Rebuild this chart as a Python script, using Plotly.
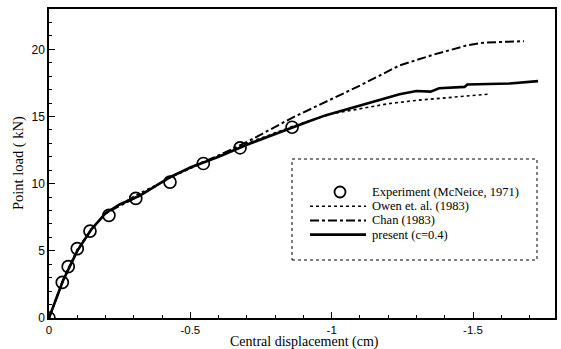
import plotly.graph_objects as go

# Experiment (McNeice, 1971)
exp_disp = [0, -0.047, -0.068, -0.100, -0.145, -0.212, -0.307, -0.428, -0.546, -0.676, -0.860]
exp_load = [0, 2.65, 3.82, 5.16, 6.47, 7.64, 8.90, 10.12, 11.50, 12.67, 14.20]

# Owen et. al. (1983)
owen_disp = [0, -0.05, -0.10, -0.15, -0.20, -0.30, -0.43, -0.50, -0.60, -0.70, -0.86, -1.00,
             -1.10, -1.20, -1.30, -1.40, -1.50, -1.56]
owen_load = [0, 2.9, 5.1, 6.6, 7.75, 9.05, 10.45, 11.15, 12.1, 13.0, 14.25, 15.2,
             15.6, 15.95, 16.2, 16.4, 16.55, 16.67]

# Chan (1983)
chan_disp = [0, -0.05, -0.10, -0.15, -0.20, -0.32, -0.43, -0.50, -0.60, -0.70, -0.78, -0.86,
             -1.00, -1.10, -1.24, -1.36, -1.48, -1.54, -1.60, -1.68]
chan_load = [0, 2.8, 5.0, 6.6, 7.8, 9.1, 10.5, 11.2, 12.1, 13.1, 14.0, 14.9,
             16.3, 17.3, 18.8, 19.6, 20.3, 20.5, 20.55, 20.6]

# present (c=0.4)
pres_disp = [0, -0.05, -0.10, -0.15, -0.20, -0.25, -0.32, -0.43, -0.50, -0.60, -0.70, -0.86,
             -0.92, -0.98, -1.10, -1.24, -1.30, -1.35, -1.38, -1.47, -1.48, -1.57, -1.63, -1.73]
pres_load = [0, 2.8, 5.0, 6.6, 7.8, 8.45, 9.1, 10.5, 11.2, 12.0, 12.9, 14.2,
             14.65, 15.1, 15.8, 16.65, 16.9, 16.85, 17.1, 17.2, 17.38, 17.4, 17.46, 17.63]

x_ticks = [0, -0.5, -1, -1.5]
x_tick_text = ["0", "-0.5", "-1", "-1.5"]
y_ticks = [0, 5, 10, 15, 20]

legend_names = ["Experiment (McNeice, 1971)", "Owen et. al. (1983)", "Chan (1983)", "present (c=0.4)"]
x_title = "Central displacement (cm)"
y_title = "Point load ( kN)"

serif = "Liberation Serif"
sans = "Liberation Sans"

W, H = 561, 349
ML, MR, MT, MB = 49, 6, 9, 31
PW, PH = W - ML - MR, H - MT - MB


def px_x(p):
    return (p - ML) / PW


def px_y(p):
    return (H - MB - p) / PH


styles = [
    None,
    dict(color="black", width=1.6, dash="dot"),
    dict(color="black", width=2, dash="dashdot"),
    dict(color="black", width=2.6),
]

fig = go.Figure()
fig.add_trace(go.Scatter(
    x=exp_disp, y=exp_load, mode="markers", name=legend_names[0],
    marker=dict(symbol="circle-open", size=12, color="black", line=dict(width=1.7)),
))
fig.add_trace(go.Scatter(x=owen_disp, y=owen_load, mode="lines", name=legend_names[1], line=styles[1]))
fig.add_trace(go.Scatter(x=chan_disp, y=chan_load, mode="lines", name=legend_names[2], line=styles[2]))
fig.add_trace(go.Scatter(x=pres_disp, y=pres_load, mode="lines", name=legend_names[3], line=styles[3]))

# legend: dotted frame, keys and labels
fig.add_shape(type="rect", xref="paper", yref="paper",
              x0=px_x(292), x1=px_x(537), y0=px_y(260), y1=px_y(159),
              line=dict(color="black", width=1, dash="dot"), fillcolor="rgba(0,0,0,0)")
row_y = [192, 206.2, 220.4, 234.6]
for i, (name, yy) in enumerate(zip(legend_names, row_y)):
    if i == 0:
        fig.add_shape(type="circle", xref="paper", yref="paper",
                      xsizemode="pixel", ysizemode="pixel",
                      xanchor=px_x(340), yanchor=px_y(yy),
                      x0=-5.5, x1=5.5, y0=-5.5, y1=5.5,
                      line=dict(color="black", width=1.8))
    else:
        fig.add_shape(type="line", xref="paper", yref="paper",
                      x0=px_x(310), x1=px_x(366), y0=px_y(yy), y1=px_y(yy), line=styles[i])
    fig.add_annotation(text=name, xref="paper", yref="paper", x=px_x(371), y=px_y(yy),
                       xanchor="left", yanchor="middle", showarrow=False, borderpad=0,
                       font=dict(family=serif, size=12.5, color="black"))

# axis titles
fig.add_annotation(text=x_title, xref="paper", yref="paper", x=px_x(304), y=px_y(342),
                   xanchor="center", yanchor="middle", showarrow=False, borderpad=0,
                   font=dict(family=serif, size=14, color="black"))
fig.add_annotation(text=y_title, xref="paper", yref="paper", x=px_x(18), y=px_y(163),
                   xanchor="center", yanchor="middle", showarrow=False, textangle=-90,
                   font=dict(family=serif, size=14.5, color="black"))

fig.update_layout(
    width=W, height=H,
    margin=dict(l=ML, r=MR, t=MT, b=MB),
    paper_bgcolor="white", plot_bgcolor="white",
    showlegend=False,
    xaxis=dict(
        range=[0, -1.79], tickvals=x_ticks, ticktext=x_tick_text, automargin=False,
        showgrid=False, zeroline=False,
        showline=True, linecolor="black", linewidth=1.5, mirror=True,
        ticks="inside", ticklen=6, tickwidth=1.2, tickcolor="black",
        minor=dict(dtick=0.1, ticks="inside", ticklen=3, tickcolor="black", showgrid=False),
        tickfont=dict(family=sans, size=11.5, color="black"),
    ),
    yaxis=dict(
        range=[0, 23], tickvals=y_ticks, automargin=False,
        showgrid=False, zeroline=False,
        showline=True, linecolor="black", linewidth=1.5, mirror=True,
        ticks="inside", ticklen=6, tickwidth=1.2, tickcolor="black",
        minor=dict(dtick=1, ticks="inside", ticklen=3, tickcolor="black", showgrid=False),
        tickfont=dict(family=sans, size=12, color="black"),
    ),
)

fig.write_html("out.html")
